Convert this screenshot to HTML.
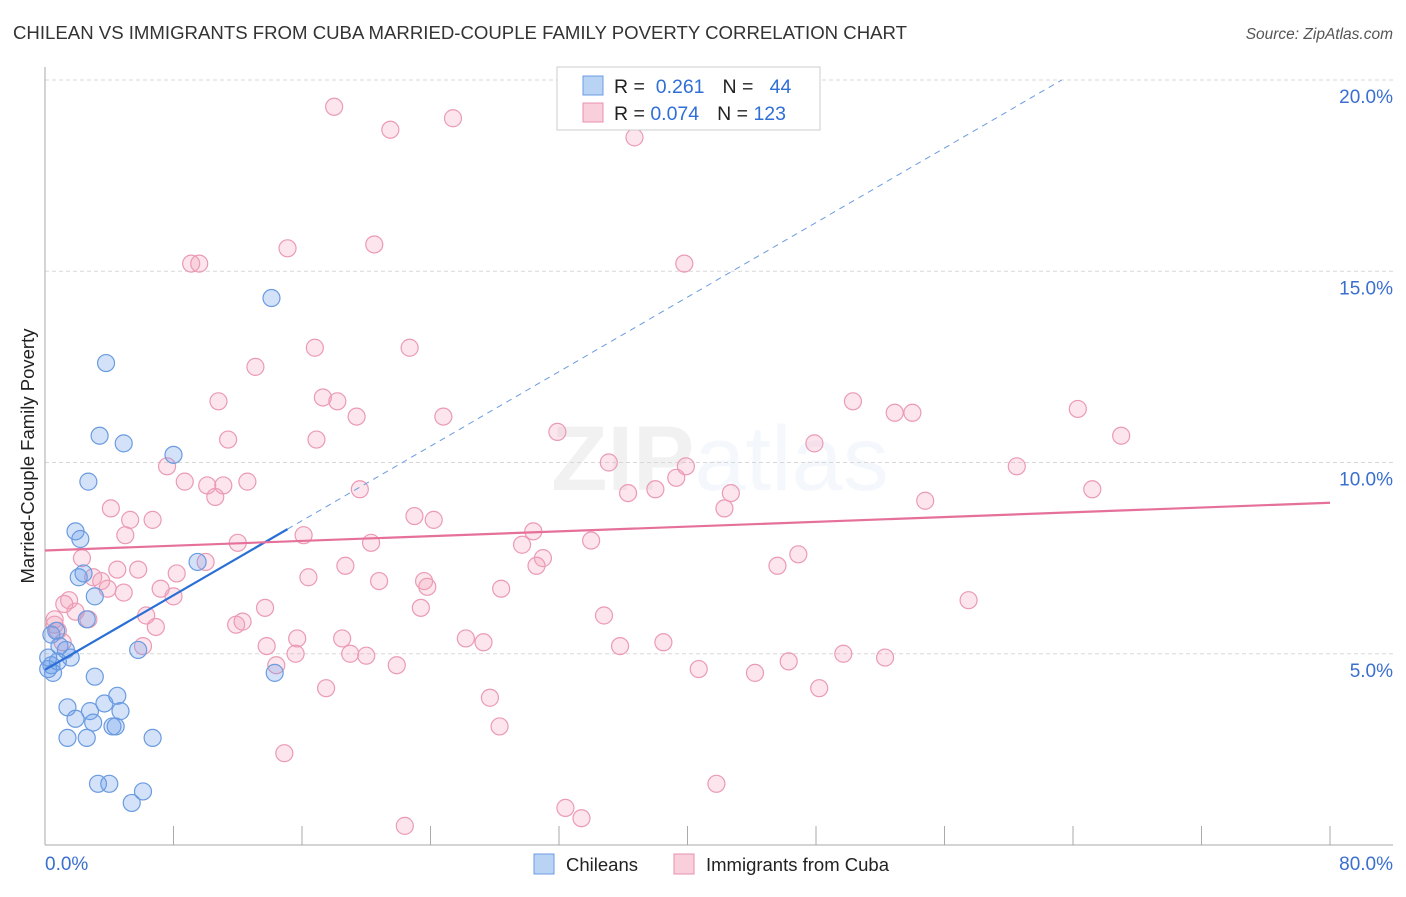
<!DOCTYPE html>
<html><head><meta charset="utf-8"><style>
body{margin:0;background:#fff;font-family:"Liberation Sans",sans-serif;}
svg text{font-family:"Liberation Sans",sans-serif;}
</style></head><body>
<svg id="chart" width="1406" height="892" viewBox="0 0 1406 892" xmlns="http://www.w3.org/2000/svg">
<text x="13" y="39" font-size="18" fill="#333" textLength="894" lengthAdjust="spacingAndGlyphs">CHILEAN VS IMMIGRANTS FROM CUBA MARRIED-COUPLE FAMILY POVERTY CORRELATION CHART</text>
<text x="1393" y="39" font-size="15.5" fill="#555" font-style="italic" text-anchor="end">Source: ZipAtlas.com</text>
<text x="720" y="490" font-size="92" text-anchor="middle" fill="#000" opacity="0.05" font-family="Liberation Serif" font-weight="bold">ZIP<tspan fill="#3a7bd5" opacity="1.4" font-family="Liberation Sans" font-weight="normal">atlas</tspan></text>
<g id="grid"></g>
<g id="axes"></g>
<g id="pink"></g>
<g id="blue"></g>
<g id="trends"></g>
<text transform="translate(34,456) rotate(-90)" font-size="18.5" fill="#222" text-anchor="middle">Married-Couple Family Poverty</text>
<g>
<rect x="557" y="67" width="263" height="63" fill="#fff" stroke="#ccc"/>
<rect x="583" y="76" width="20" height="19" fill="#b9d3f5" stroke="#6a9be0"/>
<rect x="583" y="103" width="20" height="19" fill="#f9cfdc" stroke="#e890ad"/>
<text x="614" y="93" font-size="19.5" fill="#222">R = <tspan fill="#2f6fd6">&#160;0.261</tspan><tspan dx="18">N = </tspan><tspan fill="#2f6fd6">&#160; 44</tspan></text>
<text x="614" y="120" font-size="19.5" fill="#222">R = <tspan fill="#2f6fd6">0.074</tspan><tspan dx="18">N = </tspan><tspan fill="#2f6fd6">123</tspan></text>
</g>
<g>
<rect x="534" y="854" width="20" height="20" fill="#b9d3f5" stroke="#6a9be0"/>
<text x="566" y="871" font-size="18.5" fill="#222">Chileans</text>
<rect x="674" y="854" width="20" height="20" fill="#f9cfdc" stroke="#e890ad"/>
<text x="706" y="871" font-size="18.5" fill="#222">Immigrants from Cuba</text>
</g>
</svg>
<script>
const xTicks=[0,8,16,24,32,40,48,56,64,72,80];
const yTicks=[5,10,15,20];
const yTickLabels=["5.0%","10.0%","15.0%","20.0%"];
const xEndLabels=["0.0%","80.0%"];
const chileX=[14.1,3.8,3.4,4.9,8.0,2.7,1.9,2.2,2.1,2.4,3.1,2.6,0.7,0.4,0.9,1.3,1.6,0.4,0.8,0.5,0.2,5.8,14.3,3.1,1.4,2.8,1.9,3.7,4.5,3.0,4.7,4.2,4.4,1.4,2.6,6.7,3.3,4.0,6.1,5.4,9.5,0.2];
const chileY=[14.3,12.6,10.7,10.5,10.2,9.5,8.2,8.0,7.0,7.1,6.5,5.9,5.6,5.5,5.2,5.1,4.9,4.7,4.8,4.5,4.6,5.1,4.5,4.4,3.6,3.5,3.3,3.7,3.9,3.2,3.5,3.1,3.1,2.8,2.8,2.8,1.6,1.6,1.4,1.1,7.4,4.9];
const cubaX=[18.0,21.5,25.4,36.7,15.1,20.5,9.1,9.6,39.8,13.1,16.8,22.7,10.8,17.3,18.2,19.4,24.8,50.3,52.9,54.0,64.3,67.0,11.4,16.9,31.9,47.9,35.1,39.9,7.6,39.3,60.5,8.7,10.1,11.1,12.6,19.6,10.6,36.3,38.0,42.7,54.8,65.2,4.1,5.3,6.7,23.0,24.2,42.3,5.0,30.4,16.1,12.0,20.3,34.0,29.7,2.3,46.9,10.0,31.0,30.6,4.5,5.8,18.7,45.6,8.2,3.0,3.5,16.4,20.8,23.6,23.8,28.4,3.9,7.2,8.0,4.9,1.5,1.9,13.7,23.4,57.5,6.3,2.7,34.8,0.6,11.9,12.3,6.9,0.8,15.7,18.5,26.2,27.3,38.5,35.8,6.1,13.8,19.0,20.0,49.7,52.3,15.6,1.1,21.9,14.4,40.7,46.3,44.2,17.5,48.2,27.7,28.3,14.9,41.8,32.4,33.4,22.4,0.6,1.2];
const cubaY=[19.3,18.7,19.0,18.5,15.6,15.7,15.2,15.2,15.2,12.5,13.0,13.0,11.6,11.7,11.6,11.2,11.2,11.6,11.3,11.3,11.4,10.7,10.6,10.6,10.8,10.5,10.0,9.9,9.9,9.6,9.9,9.5,9.4,9.4,9.5,9.3,9.1,9.2,9.3,9.2,9.0,9.3,8.8,8.5,8.5,8.6,8.5,8.8,8.1,8.2,8.1,7.9,7.9,7.96,7.85,7.5,7.6,7.4,7.5,7.3,7.2,7.2,7.3,7.3,7.1,7.0,6.9,7.0,6.9,6.9,6.75,6.7,6.7,6.7,6.5,6.6,6.4,6.1,6.2,6.2,6.4,6.0,5.9,6.0,5.76,5.76,5.84,5.7,5.6,5.4,5.4,5.4,5.3,5.3,5.2,5.2,5.2,5.0,4.95,5.0,4.9,5.0,5.3,4.7,4.7,4.6,4.8,4.5,4.1,4.1,3.85,3.1,2.4,1.6,0.97,0.7,0.5,5.9,6.3];
const chileTrend=[4.58,0.2436]; // intercept, slope
const chileSolidEnd=15.1;
const cubaTrend=[7.7,0.0156];
const NS="http://www.w3.org/2000/svg";
const X0=45,X1=1330,Y0=845,Y20=80;
function sx(v){return X0+(v/80)*(X1-X0);}
function sy(v){return Y0-(v/20)*(Y0-Y20);}
function mk(tag,attrs,parent){const e=document.createElementNS(NS,tag);for(const k in attrs)e.setAttribute(k,attrs[k]);parent.appendChild(e);return e;}
const grid=document.getElementById('grid'),axes=document.getElementById('axes');
yTicks.forEach((t,i)=>{
  const l=mk('line',{x1:X0,x2:1393,y1:sy(t),y2:sy(t),stroke:'#d8d8d8','stroke-dasharray':'4,3'},grid);
  
  
  const tx=mk('text',{x:1393,y:sy(t)+23,'font-size':19,fill:'#3a6fd0','text-anchor':'end'},axes);
  tx.textContent=yTickLabels[i];
  
  
});
const ya=mk('line',{x1:X0,x2:X0,y1:67,y2:Y0,stroke:'#aaa'},axes);


const xa=mk('line',{x1:X0,x2:1393,y1:Y0,y2:Y0,stroke:'#aaa'},axes);


xTicks.forEach(t=>{if(t===0)return;
  const l=mk('line',{x1:sx(t),x2:sx(t),y1:Y0-19,y2:Y0,stroke:'#aaa'},axes);
  
  });
[[0,'start',45],[80,'end',1393]].forEach((a,i)=>{
  const tx=mk('text',{x:a[2],y:870,'font-size':19,fill:'#3a6fd0','text-anchor':a[1]},axes);
  tx.textContent=xEndLabels[i];
  
  });
const pg=document.getElementById('pink');
cubaX.forEach((v,i)=>{const c=mk('circle',{cx:sx(v),cy:sy(cubaY[i]),r:8.5,fill:'rgba(244,160,188,0.28)',stroke:'#eb9ab5','stroke-width':1.2},pg);
  
  });
const bg=document.getElementById('blue');
chileX.forEach((v,i)=>{const c=mk('circle',{cx:sx(v),cy:sy(chileY[i]),r:8.5,fill:'rgba(110,160,235,0.3)',stroke:'#6a9be0','stroke-width':1.2},bg);
  
  });
const tg=document.getElementById('trends');
const f=(tr,x)=>tr[0]+tr[1]*x;
const xEndDash=(20-chileTrend[0])/chileTrend[1];
const d1=mk('line',{x1:sx(chileSolidEnd),y1:sy(f(chileTrend,chileSolidEnd)),x2:sx(xEndDash),y2:sy(20),stroke:'#6a9be0','stroke-width':1,'stroke-dasharray':'6,5'},tg);


const s1=mk('line',{x1:sx(0),y1:sy(f(chileTrend,0)),x2:sx(chileSolidEnd),y2:sy(f(chileTrend,chileSolidEnd)),stroke:'#2a6fd6','stroke-width':2.2},tg);


const p1=mk('line',{x1:sx(0),y1:sy(f(cubaTrend,0)),x2:sx(80),y2:sy(f(cubaTrend,80)),stroke:'#e5709a','stroke-width':2.2},tg);


</script>
</body></html>
